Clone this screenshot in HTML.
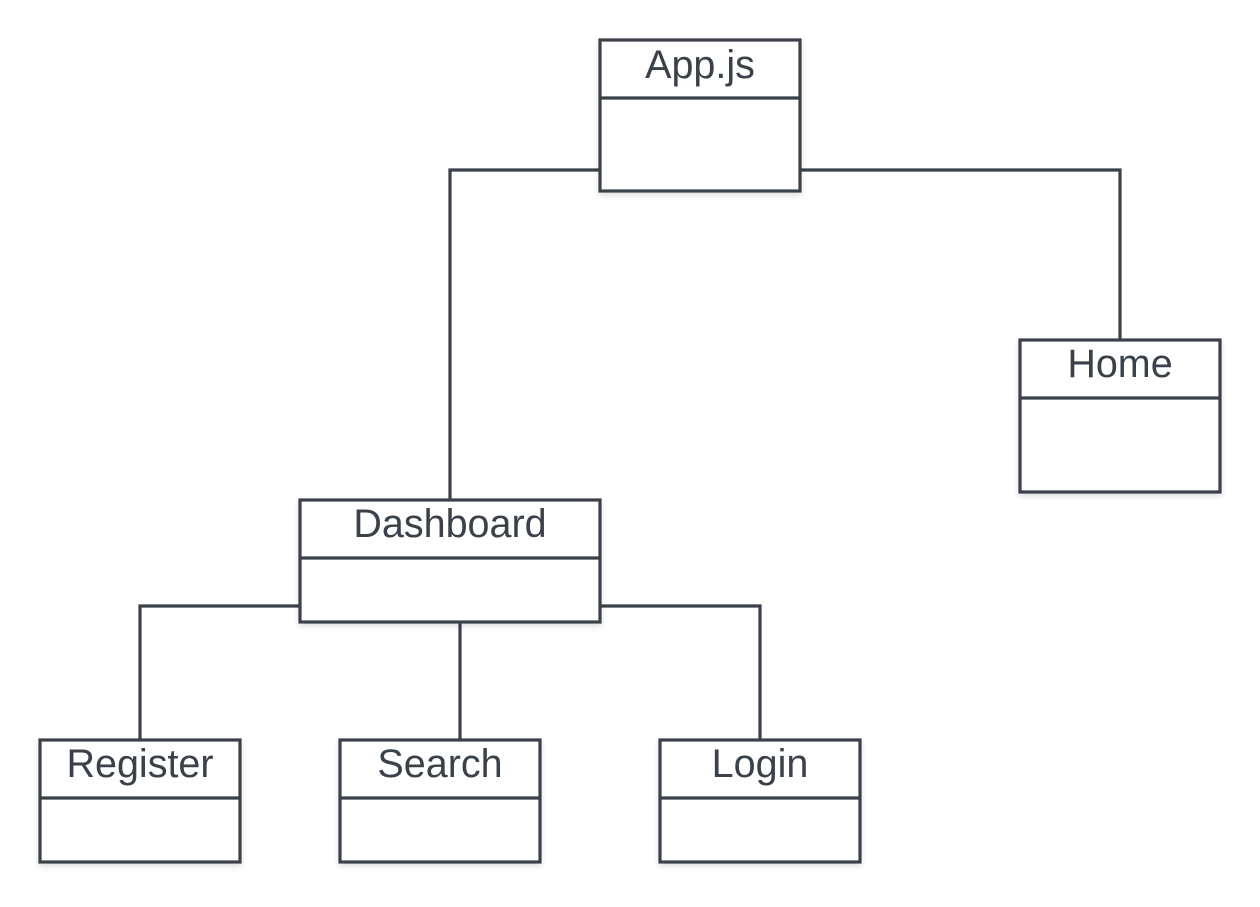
<!DOCTYPE html>
<html><head><style>html,body{margin:0;padding:0;background:#fff}</style></head>
<body>
<svg width="1260" height="902" xmlns="http://www.w3.org/2000/svg">
<defs><filter id="s" x="-10%" y="-10%" width="130%" height="130%"><feDropShadow dx="0" dy="3" stdDeviation="3" flood-color="#000" flood-opacity="0.12"/></filter></defs>
<g fill="none" stroke="#3a414a" stroke-width="3.2">
<path d="M600 170H450V500"/>
<path d="M800 170H1120V340"/>
<path d="M300 606H140V740"/>
<path d="M600 606H760V740"/>
<path d="M460 622V740"/>
</g>
<g fill="#fff" stroke="#3a414a" stroke-width="3.2" filter="url(#s)">
<rect x="600" y="40" width="200" height="151"/>
<rect x="1020" y="340" width="200" height="152"/>
<rect x="300" y="500" width="300" height="122"/>
<rect x="40" y="740" width="200" height="122"/>
<rect x="340" y="740" width="200" height="122"/>
<rect x="660" y="740" width="200" height="122"/>
</g>
<g stroke="#3a414a" stroke-width="3.2">
<path d="M600 98H800M1020 398H1220M300 558H600M40 798H240M340 798H540M660 798H860"/>
</g>
<g font-family="Liberation Sans, sans-serif" font-size="39.5" fill="#3a414a" text-anchor="middle">
<text x="700" y="78">App.js</text>
<text x="1120" y="377">Home</text>
<text x="450" y="537">Dashboard</text>
<text x="140" y="777">Register</text>
<text x="440" y="777">Search</text>
<text x="760" y="777">Login</text>
</g>
</svg>
</body></html>
